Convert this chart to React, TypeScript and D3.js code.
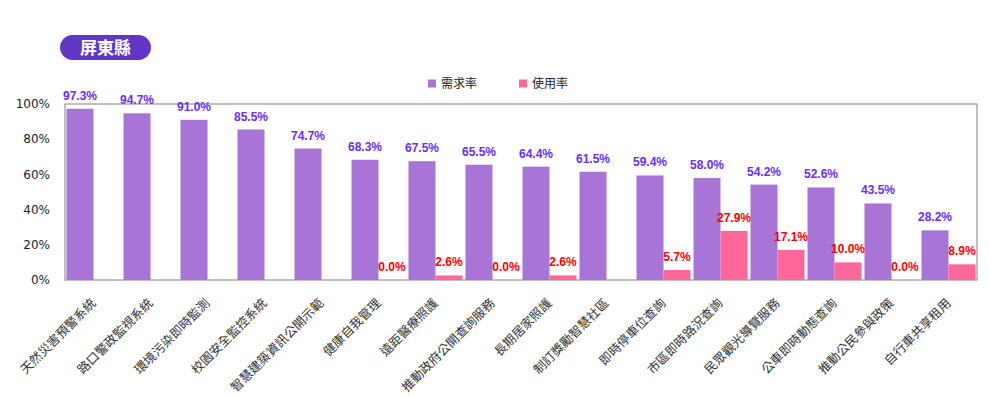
import React, {useEffect, useRef} from 'react';
import * as d3 from 'd3';

// categories (x axis)
const categories = [
  '天然災害預警系統',
  '路口警政監視系統',
  '環境污染即時監測',
  '校園安全監控系統',
  '智慧建築資訊公開示範',
  '健康自我管理',
  '遠距醫療照護',
  '推動政府公開查詢服務',
  '長期居家照護',
  '制訂獎勵智慧社區',
  '即時停車位查詢',
  '市區即時路況查詢',
  '民眾觀光導覽服務',
  '公車即時動態查詢',
  '推動公民參與政策',
  '自行車共享租用',
];
// 需求率
const demand = [97.3, 94.7, 91.0, 85.5, 74.7, 68.3, 67.5, 65.5, 64.4, 61.5, 59.4, 58.0, 54.2, 52.6, 43.5, 28.2];
// 使用率 (null = no data)
const usage: (number | null)[] = [null, null, null, null, null, 0.0, 2.6, 0.0, 2.6, null, 5.7, 27.9, 17.1, 10.0, 0.0, 8.9];
const yTicks = [0, 20, 40, 60, 80, 100];
const seriesNames = ['需求率', '使用率'];

const App: React.FC = () => {
  const svgRef = useRef<SVGSVGElement>(null);

  useEffect(() => {
    document.body.style.margin = '0';
    const svg = d3.select(svgRef.current);
    svg.selectAll('*').remove();

    const margin = {top: 104, right: 13, bottom: 117, left: 65};
    const width = 990 - margin.left - margin.right;
    const height = 397 - margin.top - margin.bottom;
    const purple = '#a874d5';
    const pink = '#ff6699';

    // title pill
    svg
      .append('rect')
      .attr('x', 60)
      .attr('y', 35)
      .attr('width', 91)
      .attr('height', 25)
      .attr('rx', 12.5)
      .attr('fill', '#6236c4');
    svg
      .append('text')
      .attr('x', 105.5)
      .attr('y', 54)
      .attr('text-anchor', 'middle')
      .attr('fill', '#fff')
      .attr('font-family', '"Noto Sans CJK TC", sans-serif')
      .attr('font-weight', 'bold')
      .attr('font-size', 17)
      .text('屏東縣');

    // legend
    const legend = svg.append('g').attr('font-family', '"Noto Sans CJK TC", sans-serif').attr('font-size', 12);
    [428, 519].forEach((lx, i) => {
      legend
        .append('rect')
        .attr('x', lx)
        .attr('y', 79.5)
        .attr('width', 8)
        .attr('height', 8)
        .attr('fill', i === 0 ? purple : pink);
      legend
        .append('text')
        .attr('x', lx + 13)
        .attr('y', 88)
        .attr('fill', '#222')
        .text(seriesNames[i]);
    });

    const g = svg.append('g').attr('transform', 'translate(' + margin.left + ',' + margin.top + ')');

    const x = d3.scaleBand().domain(categories).range([0, width]);
    const y = d3.scaleLinear().domain([0, 100]).range([height, 0]);
    const barW = 27;
    const pad = (x.bandwidth() - barW * 2) / 2;

    // plot border
    g.append('rect')
      .attr('x', 0)
      .attr('y', 0)
      .attr('width', width)
      .attr('height', height)
      .attr('fill', 'none')
      .attr('stroke', '#808080')
      .attr('stroke-width', 1);

    // y axis labels
    g.selectAll('.ytick')
      .data(yTicks)
      .enter()
      .append('text')
      .attr('x', -15)
      .attr('y', (d) => y(d))
      .attr('dy', '0.35em')
      .attr('text-anchor', 'end')
      .attr('font-family', '"DejaVu Sans", sans-serif')
      .attr('font-size', 12)
      .attr('fill', '#1a1a2e')
      .text((d) => d + '%');

    // demand bars
    g.selectAll('.bar-d')
      .data(demand)
      .enter()
      .append('rect')
      .attr('x', (d, i) => x(categories[i])! + pad)
      .attr('y', (d) => y(d))
      .attr('width', barW)
      .attr('height', (d) => height - y(d))
      .attr('fill', purple);

    // usage bars
    const usageData = usage.map((v, i) => ({v, i})).filter((d) => d.v !== null) as {v: number; i: number}[];
    g.selectAll('.bar-u')
      .data(usageData)
      .enter()
      .append('rect')
      .attr('x', (d) => x(categories[d.i])! + pad + barW)
      .attr('y', (d) => y(d.v))
      .attr('width', barW)
      .attr('height', (d) => height - y(d.v))
      .attr('fill', pink);

    // value labels
    g.selectAll('.lab-d')
      .data(demand)
      .enter()
      .append('text')
      .attr('x', (d, i) => x(categories[i])! + pad + barW / 2)
      .attr('y', (d) => y(d) - 9)
      .attr('text-anchor', 'middle')
      .attr('font-family', '"Liberation Sans", Arial, sans-serif')
      .attr('font-weight', 'bold')
      .attr('font-size', 12)
      .attr('fill', '#6b2ef5')
      .text((d) => d.toFixed(1) + '%');
    g.selectAll('.lab-u')
      .data(usageData)
      .enter()
      .append('text')
      .attr('x', (d) => x(categories[d.i])! + pad + barW * 1.5)
      .attr('y', (d) => y(d.v) - 9)
      .attr('text-anchor', 'middle')
      .attr('font-family', '"Liberation Sans", Arial, sans-serif')
      .attr('font-weight', 'bold')
      .attr('font-size', 12)
      .attr('fill', '#ff0000')
      .text((d) => d.v.toFixed(1) + '%');

    // x labels rotated
    g.selectAll('.xlab')
      .data(categories)
      .enter()
      .append('text')
      .attr('transform', (d) => 'translate(' + (x(d)! + x.bandwidth() / 2 + 3) + ',' + (height + 24) + ') rotate(-45)')
      .attr('text-anchor', 'end')
      .attr('font-family', '"Noto Sans CJK TC", sans-serif')
      .attr('font-size', 12.5)
      .attr('fill', '#333')
      .text((d) => d);
  }, []);

  return <svg ref={svgRef} width={990} height={397} style={{display: 'block', background: '#fff'}}></svg>;
};

export default App;
